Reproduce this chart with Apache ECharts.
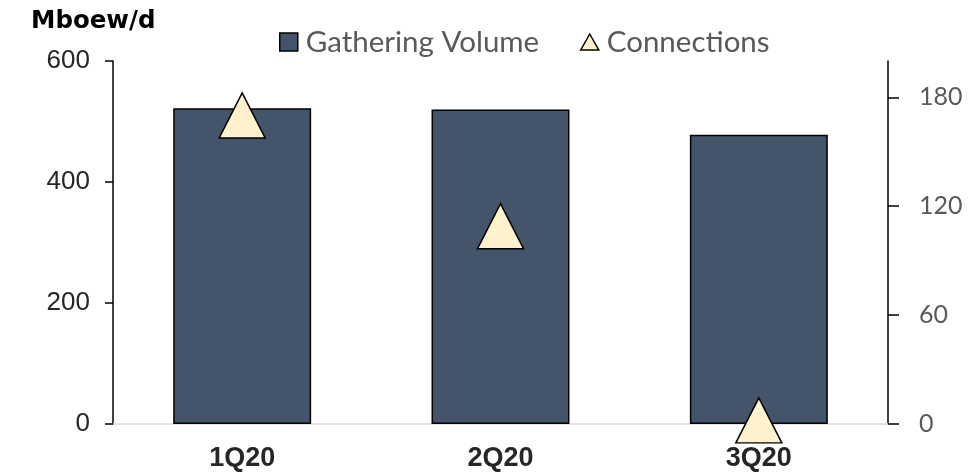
<!DOCTYPE html>
<html>
<head>
<meta charset="utf-8">
<script src="https://cdn.jsdelivr.net/npm/echarts@6/dist/echarts.min.js"></script>
<style>
html,body{margin:0;padding:0;background:#fff;}
#c{width:971px;height:476px;}
</style>
</head>
<body>
<div id="c"></div>
<script>
var categories = ['1Q20', '2Q20', '3Q20'];
var gatheringVolume = [522, 520, 478];
var connections = [170, 109, 2];
var leftTicks = [0, 200, 400, 600];
var rightTicks = [0, 60, 120, 180];

var chart = echarts.init(document.getElementById('c'), null, {renderer: 'canvas'});
chart.setOption({
  animation: false,
  backgroundColor: '#ffffff',
  title: {
    text: 'Mboew/d',
    left: 26, top: 4,
    textStyle: {fontFamily: 'DejaVu Sans', fontWeight: 'bold', fontSize: 24.5, color: '#000'}
  },
  legend: [
    {
      data: [{name: 'Gathering Volume', icon: 'rect'}],
      left: 274, top: 22,
      itemWidth: 18, itemHeight: 18,
      textStyle: {fontFamily: 'Lato', fontSize: 29.5, color: '#595959', padding: [0,0,0,3]},
      itemStyle: {borderColor: '#000', borderWidth: 1.5}
    },
    {
      data: [{name: 'Connections', icon: 'triangle'}],
      left: 575, top: 22,
      itemWidth: 18, itemHeight: 16,
      textStyle: {fontFamily: 'Lato', fontSize: 29.5, color: '#595959', padding: [0,0,0,3]},
      itemStyle: {borderColor: '#000', borderWidth: 1.5}
    }
  ],
  grid: {left: 113, right: 83, top: 61, bottom: 52, containLabel: false},
  xAxis: {
    type: 'category',
    data: categories,
    axisLine: {lineStyle: {color: '#D9D9D9', width: 1.5}},
    axisTick: {show: false},
    axisLabel: {fontFamily: 'Liberation Sans', fontWeight: 'bold', fontSize: 27, color: '#262626', margin: 21}
  },
  yAxis: [
    {
      type: 'value', min: 0, max: 600, interval: 200,
      position: 'left',
      axisLine: {show: true, lineStyle: {color: '#000', width: 1.5}},
      axisTick: {show: true, length: 8, inside: false, lineStyle: {color: '#000', width: 1.5}, customValues: leftTicks},
      axisLabel: {fontFamily: 'Liberation Sans', fontSize: 26, color: '#262626', margin: 23, customValues: leftTicks},
      splitLine: {show: false}
    },
    {
      type: 'value', min: 0, max: 200,
      position: 'right',
      axisLine: {show: true, lineStyle: {color: '#000', width: 1.5}},
      axisTick: {show: true, length: 11, inside: false, lineStyle: {color: '#000', width: 1.5}, customValues: rightTicks},
      axisLabel: {fontFamily: 'Lato', fontSize: 25, color: '#595959', margin: 31, customValues: rightTicks},
      splitLine: {show: false}
    }
  ],
  series: [
    {
      name: 'Gathering Volume',
      type: 'bar',
      data: gatheringVolume,
      barWidth: '53.4%',
      itemStyle: {color: '#44546A', borderColor: '#000', borderWidth: 1.5}
    },
    {
      name: 'Connections',
      type: 'scatter',
      yAxisIndex: 1,
      data: connections,
      symbol: 'triangle',
      symbolSize: [46, 45],
      clip: false,
      itemStyle: {color: '#FFF2CC', borderColor: '#000', borderWidth: 1.5, opacity: 1}
    }
  ]
});
</script>
</body>
</html>
